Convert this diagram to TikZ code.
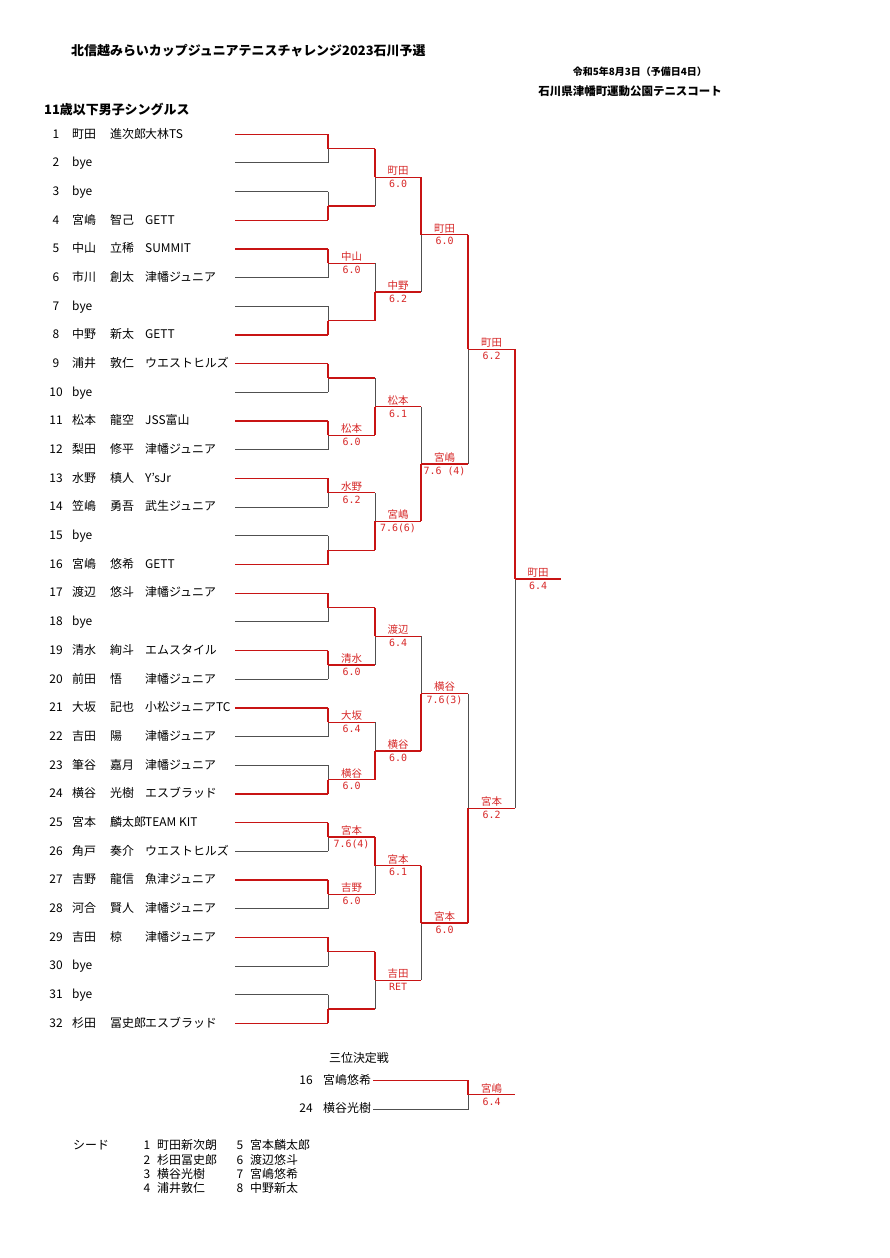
\documentclass[tikz,border=0pt]{standalone}
\usepackage{fontspec}
\setmainfont{Noto Sans CJK JP}
\newfontfamily\scfont{DejaVu Sans Mono}
\usetikzlibrary{calc}
\definecolor{wred}{RGB}{200,20,20}
\definecolor{lred}{RGB}{215,40,40}
\definecolor{lgrey}{RGB}{80,80,80}
\newcommand\bmatch[5]{%
  \pgfmathtruncatemacro\pr{#1-1}%
  \pgfmathtruncatemacro\ta{2*#2-1}%
  \pgfmathtruncatemacro\tb{2*#2}%
  \ifnum#3=1
    \draw[win] (q\pr-\ta) -- (m#1-#2);
    \draw[lose] (m#1-#2) -- (q\pr-\tb);
  \else
    \draw[lose] (q\pr-\ta) -- (m#1-#2);
    \draw[win] (m#1-#2) -- (q\pr-\tb);
  \fi
  \draw[win] (m#1-#2) -- (q#1-#2);
  \node[lab,anchor=south] (wn#1-#2) at ($(m#1-#2)!0.5!(q#1-#2)$) {#4};
  \node[slab,anchor=north] (sc#1-#2) at ($(m#1-#2)!0.5!(q#1-#2)$) {#5};
}
\begin{document}
\begin{tikzpicture}[x=1bp,y=-1bp,
  win/.style={draw=wred,line width=1.3bp},
  lose/.style={draw=lgrey,line width=1bp},
  ptxt/.style={anchor=west,inner sep=0pt,font=\fontsize{12}{12}\selectfont,text height=0.88em,text depth=0.12em},
  lab/.style={font=\fontsize{10.5}{10.5}\selectfont,text=lred,inner sep=1.2bp,text height=0.88em,text depth=0.12em},
  slab/.style={font=\fontsize{10}{10}\selectfont\scfont,text=lred,inner sep=2.6bp,text height=0.75em,text depth=0.1em},
  hdr/.style={inner sep=0pt,font=\bfseries,text height=0.88em,text depth=0.12em}]
\path[use as bounding box,fill=white] (0,0) rectangle (890,1258);

% header
\node[hdr,anchor=west,font=\fontsize{13}{13}\selectfont\bfseries] (title) at (71,52) {北信越みらいカップジュニアテニスチャレンジ2023石川予選};
\node[hdr,anchor=east,font=\fontsize{10}{10}\selectfont\bfseries] (date) at (707,72) {令和5年8月3日（予備日4日）};
\node[hdr,anchor=east,font=\fontsize{11.5}{11.5}\selectfont\bfseries] (venue) at (722,92) {石川県津幡町運動公園テニスコート};
\node[hdr,anchor=west,font=\fontsize{13}{13}\selectfont\bfseries] (cat) at (44,111) {11歳以下男子シングルス};

% players
\foreach \i/\sur/\giv/\club/\w in {
 1/町田/進次郎/大林TS/1, 2/bye///0, 3/bye///0, 4/宮嶋/智己/GETT/1,
 5/中山/立稀/SUMMIT/1, 6/市川/創太/津幡ジュニア/0, 7/bye///0, 8/中野/新太/GETT/1,
 9/浦井/敦仁/ウエストヒルズ/1, 10/bye///0, 11/松本/龍空/JSS富山/1, 12/梨田/修平/津幡ジュニア/0,
 13/水野/槙人/Y'sJr/1, 14/笠嶋/勇吾/武生ジュニア/0, 15/bye///0, 16/宮嶋/悠希/GETT/1,
 17/渡辺/悠斗/津幡ジュニア/1, 18/bye///0, 19/清水/絢斗/エムスタイル/1, 20/前田/悟/津幡ジュニア/0,
 21/大坂/記也/小松ジュニアTC/1, 22/吉田/陽/津幡ジュニア/0, 23/筆谷/嘉月/津幡ジュニア/0, 24/横谷/光樹/エスブラッド/1,
 25/宮本/麟太郎/TEAM KIT/1, 26/角戸/奏介/ウエストヒルズ/0, 27/吉野/龍信/魚津ジュニア/1, 28/河合/賢人/津幡ジュニア/0,
 29/吉田/椋/津幡ジュニア/1, 30/bye///0, 31/bye///0, 32/杉田/冨史郎/エスブラッド/1}{
  \pgfmathsetmacro\yy{134.3+(\i-1)*28.68}
  \node[ptxt,anchor=center] (n\i) at (56,\yy) {\i};
  \node[ptxt] (s\i) at (72,\yy) {\sur};
  \node[ptxt] (g\i) at (110,\yy) {\giv};
  \node[ptxt] (c\i) at (145,\yy) {\club};
  \coordinate (a\i) at (235,\yy);
  \coordinate (q0-\i) at (328,\yy);
  \ifnum\w=1 \draw[win] (a\i) -- (q0-\i); \else \draw[lose] (a\i) -- (q0-\i); \fi
}

% match coordinates
\foreach \r/\n/\xa/\xb in {1/16/328/375,2/8/375/421,3/4/421/468,4/2/468/515,5/1/515/561}{
  \foreach \m in {1,...,\n}{
    \pgfmathsetmacro\yy{134.3+28.68*(2^\r*(\m-1)+(2^\r+1)/2-1)}
    \coordinate (m\r-\m) at (\xa,\yy);
    \coordinate (q\r-\m) at (\xb,\yy);
  }
}

% round 1
\bmatch{1}{1}{1}{}{}
\bmatch{1}{2}{2}{}{}
\bmatch{1}{3}{1}{中山}{6.0}
\bmatch{1}{4}{2}{}{}
\bmatch{1}{5}{1}{}{}
\bmatch{1}{6}{1}{松本}{6.0}
\bmatch{1}{7}{1}{水野}{6.2}
\bmatch{1}{8}{2}{}{}
\bmatch{1}{9}{1}{}{}
\bmatch{1}{10}{1}{清水}{6.0}
\bmatch{1}{11}{1}{大坂}{6.4}
\bmatch{1}{12}{2}{横谷}{6.0}
\bmatch{1}{13}{1}{宮本}{7.6(4)}
\bmatch{1}{14}{1}{吉野}{6.0}
\bmatch{1}{15}{1}{}{}
\bmatch{1}{16}{2}{}{}
% round 2
\bmatch{2}{1}{1}{町田}{6.0}
\bmatch{2}{2}{2}{中野}{6.2}
\bmatch{2}{3}{2}{松本}{6.1}
\bmatch{2}{4}{2}{宮嶋}{7.6(6)}
\bmatch{2}{5}{1}{渡辺}{6.4}
\bmatch{2}{6}{2}{横谷}{6.0}
\bmatch{2}{7}{1}{宮本}{6.1}
\bmatch{2}{8}{1}{吉田}{RET}
% round 3
\bmatch{3}{1}{1}{町田}{6.0}
\bmatch{3}{2}{2}{宮嶋}{7.6 (4)}
\bmatch{3}{3}{2}{横谷}{7.6(3)}
\bmatch{3}{4}{1}{宮本}{6.0}
% round 4
\bmatch{4}{1}{1}{町田}{6.2}
\bmatch{4}{2}{2}{宮本}{6.2}
% final
\bmatch{5}{1}{1}{町田}{6.4}

% third place
\node[ptxt,anchor=center] (tp) at (359,1059) {三位決定戦};
\node[ptxt,anchor=center] (tn1) at (306,1080.5) {16};
\node[ptxt] (tw1) at (323,1080.5) {宮嶋悠希};
\node[ptxt,anchor=center] (tn2) at (306,1109) {24};
\node[ptxt] (tw2) at (323,1109) {横谷光樹};
\coordinate (ta) at (373,1080.5);
\coordinate (tb) at (373,1109);
\coordinate (tc) at (468,1080.5);
\coordinate (td) at (468,1109);
\coordinate (tm) at (468,1094.75);
\coordinate (to) at (515,1094.75);
\draw[win] (ta) -- (tc) -- (tm);
\draw[lose] (tb) -- (td) -- (tm);
\draw[win] (tm) -- (to);
\node[lab,anchor=south] (tlw) at ($(tm)!0.5!(to)$) {宮嶋};
\node[slab,anchor=north] (tls) at ($(tm)!0.5!(to)$) {6.4};

% seeds
\node[ptxt] (seedh) at (73,1146) {シード};
\foreach \k/\nm/\yy in {1/町田新次朗/1146,2/杉田冨史郎/1160.2,3/横谷光樹/1174.4,4/浦井敦仁/1188.6}{
  \node[ptxt,anchor=center] (sn\k) at (147,\yy) {\k};
  \node[ptxt] (sm\k) at (157,\yy) {\nm};
}
\foreach \k/\nm/\yy in {5/宮本麟太郎/1146,6/渡辺悠斗/1160.2,7/宮嶋悠希/1174.4,8/中野新太/1188.6}{
  \node[ptxt,anchor=center] (sn\k) at (240,\yy) {\k};
  \node[ptxt] (sm\k) at (250,\yy) {\nm};
}
\end{tikzpicture}
\end{document}
